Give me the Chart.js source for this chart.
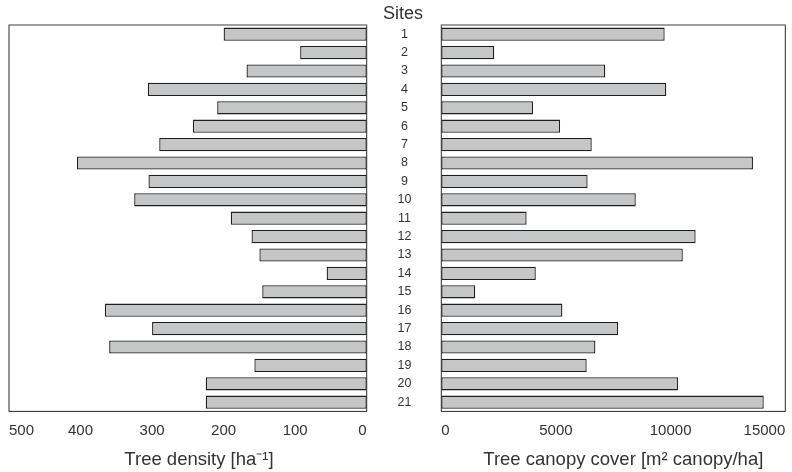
<!DOCTYPE html>
<html>
<head>
<meta charset="utf-8">
<script src="https://cdn.jsdelivr.net/npm/chart.js@4"></script>
<style>
  body { margin: 0; background: #fff; }
  #wrap { position: relative; width: 792px; height: 472px; overflow: hidden; }
  #left { position: absolute; left: 0; top: 0; }
  #right { position: absolute; left: 380px; top: 0; }
  #sites { position: absolute; left: 353px; top: 3px; width: 100px; text-align: center;
           font: 18px "Liberation Sans", Arial, sans-serif; color: #333; }
</style>
</head>
<body>
<div id="wrap">
  <canvas id="left" width="430" height="472"></canvas>
  <canvas id="right" width="500" height="472"></canvas>
  <div id="sites">Sites</div>
</div>
<script>
const sites = ["1", "2", "3", "4", "5", "6", "7", "8", "9", "10", "11",
               "12", "13", "14", "15", "16", "17", "18", "19", "20", "21"];
// trees per hectare
const treeDensity = [200, 93, 168, 306, 209, 243, 290, 405, 305, 325, 190,
                     161, 150, 56, 146, 366, 300, 360, 157, 225, 225];
// m2 canopy per hectare
const canopyCover = [9740, 2310, 7150, 9810, 4000, 5180, 6560, 13590, 6380, 8480, 3720,
                     11090, 10530, 4120, 1480, 5280, 7710, 6720, 6340, 10320, 14060];
const densityTicks = [0, 100, 200, 300, 400, 500];
const canopyTicks = [0, 5000, 10000, 15000];

const family = '"Liberation Sans", Arial, sans-serif';
const textColor = "#333";
const barFill = "#c5c6c8";
const barEdge = "#1e1e1e";

// box around the plot area, top edge lighter
const framePlugin = {
  id: "frame",
  beforeDatasetsDraw(chart) {
    const { ctx, chartArea: a } = chart;
    ctx.save();
    ctx.lineWidth = 1;
    ctx.strokeStyle = "#2a2a2a";
    ctx.strokeRect(a.left, a.top, a.width, a.height);
    ctx.strokeStyle = "#a8a8a8";
    ctx.beginPath();
    ctx.moveTo(a.left, a.top);
    ctx.lineTo(a.right, a.top);
    ctx.stroke();
    ctx.restore();
  },
};

function barSet(values) {
  return {
    data: values,
    backgroundColor: barFill,
    borderColor: barEdge,
    borderWidth: 1.3,
    borderSkipped: false,
    barPercentage: 0.72,
    categoryPercentage: 1,
  };
}

function axisTitle(text) {
  return {
    display: true,
    position: "bottom",
    text: text,
    color: textColor,
    font: { size: 18.5, family: family, weight: "normal" },
    padding: { top: 9.5, bottom: 0.9 },
  };
}

function valueAxis(max, tickValues, reverse) {
  return {
    reverse: reverse,
    min: 0,
    max: max,
    afterBuildTicks: (s) => { s.ticks = tickValues.map((v) => ({ value: v })); },
    afterFit: (s) => { s.height = 28; },
    grid: { display: false, drawTicks: false },
    border: { display: false },
    ticks: { align: "inner", padding: 10, color: textColor, font: { size: 15, family: family },
             callback: (v) => String(v) },
  };
}

// empty spacer axis, only there to take room
function spacerAxis(position, width) {
  return {
    type: "category",
    position: position,
    grid: { display: false, drawTicks: false },
    border: { display: false },
    ticks: { display: false },
    afterFit: (s) => { s.width = width; },
  };
}

let densityChart = new Chart(document.getElementById("left"), {
  type: "bar",
  data: { labels: sites, datasets: [barSet(treeDensity)] },
  options: {
    indexAxis: "y",
    responsive: false,
    animation: false,
    layout: { padding: { left: 9, right: 41, top: 25, bottom: 0 } },
    plugins: {
      legend: { display: false },
      tooltip: { enabled: false },
      title: axisTitle("Tree density [ha\u207B\u00B9]"),
    },
    scales: {
      x: valueAxis(500, densityTicks, true),
      y: spacerAxis("right", 22.3),
    },
  },
  plugins: [framePlugin],
});

let canopyChart = new Chart(document.getElementById("right"), {
  type: "bar",
  data: { labels: sites, datasets: [barSet(canopyCover)] },
  options: {
    indexAxis: "y",
    responsive: false,
    animation: false,
    layout: { padding: { left: 5.3, right: 18.7, top: 25, bottom: 0 } },
    plugins: {
      legend: { display: false },
      tooltip: { enabled: false },
      title: axisTitle("Tree canopy cover [m\u00B2 canopy/ha]"),
    },
    scales: {
      x: valueAxis(15000, canopyTicks, false),
      y: {
        position: "left",
        grid: { display: false, drawTicks: false },
        border: { display: false },
        afterFit: (s) => { s.width = 56; s.paddingTop = 0; s.paddingBottom = 0; },
        ticks: { crossAlign: "center", padding: 29.8, autoSkip: false, color: textColor,
                 font: { size: 12.5, family: family } },
      },
      y2: spacerAxis("right", 76),
    },
  },
  plugins: [framePlugin],
});
</script>
</body>
</html>
